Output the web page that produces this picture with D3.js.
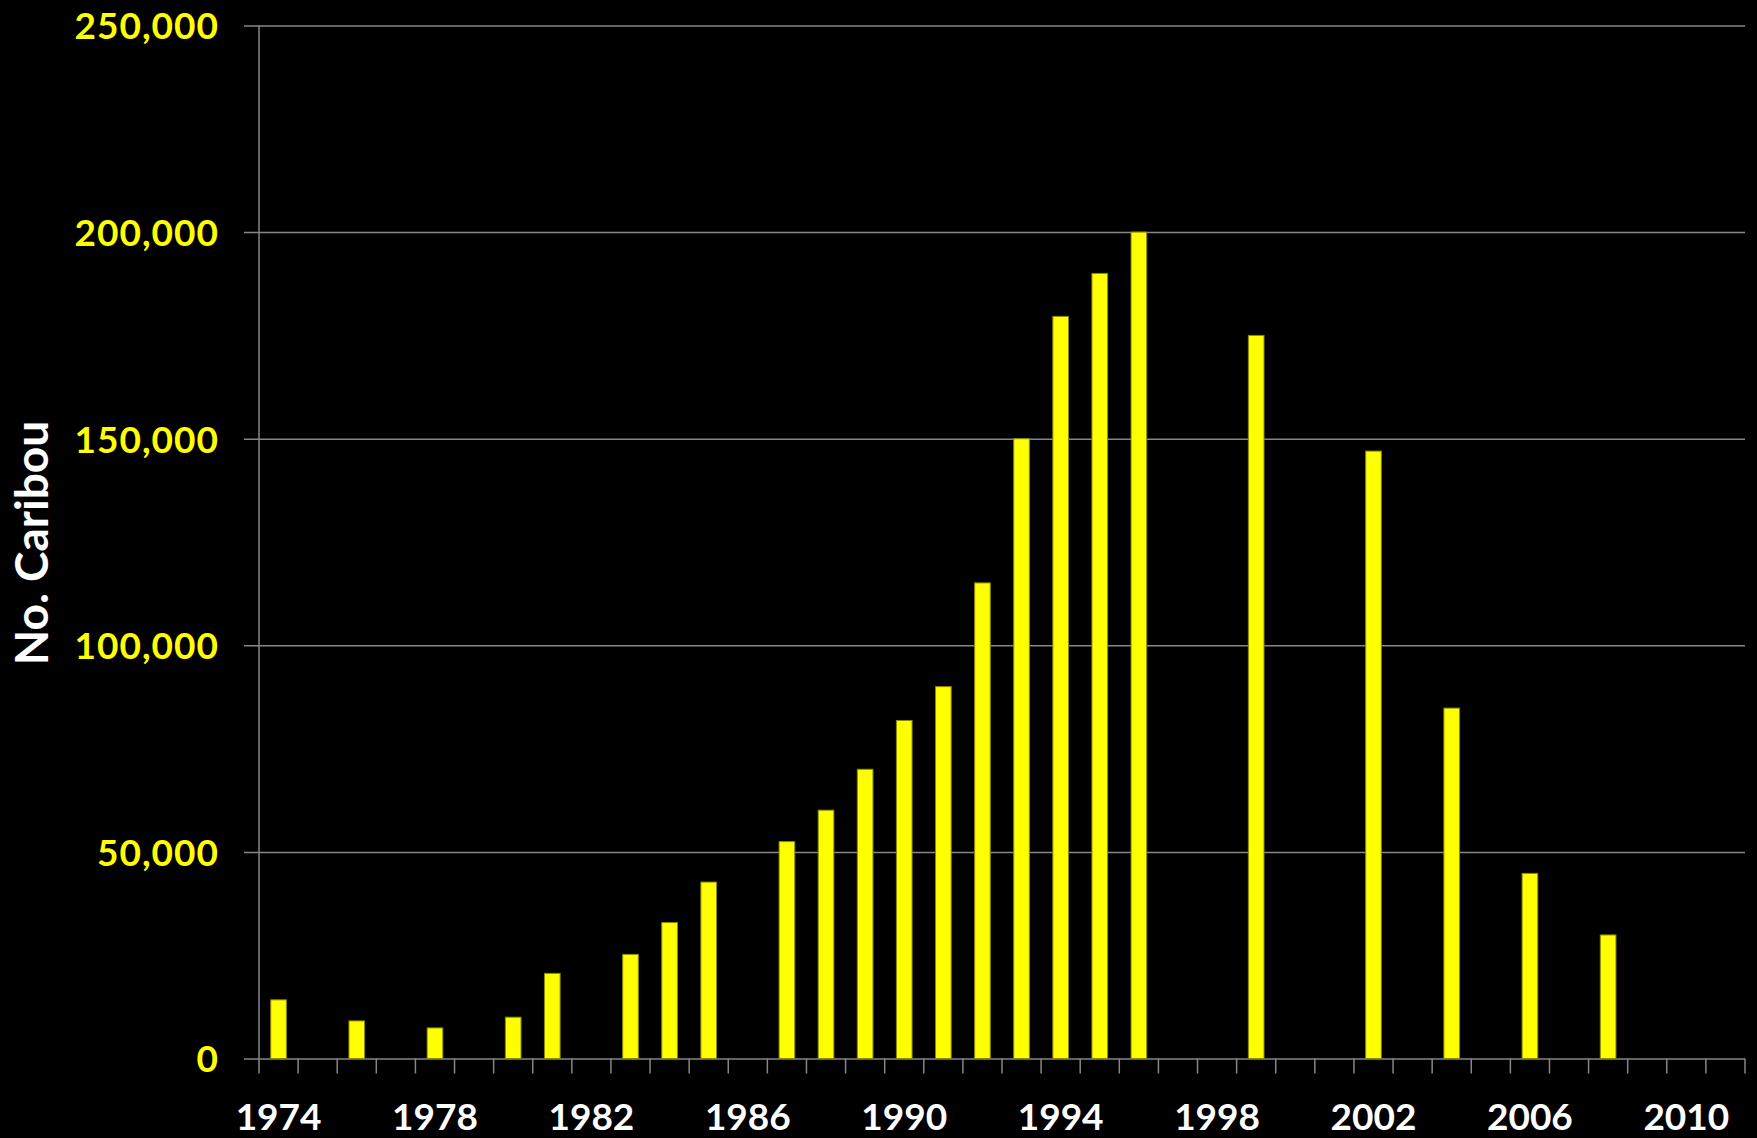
<!DOCTYPE html>
<html>
<head>
<meta charset="utf-8">
<script src="https://cdn.jsdelivr.net/npm/d3@7"></script>
<style>
  body { margin: 0; background: #000; }
  svg { display: block; }
  text { font-family: Lato, "Open Sans", sans-serif; font-weight: bold; }
</style>
</head>
<body>
<div id="chart"></div>
<script>
// caribou counts
const years = [1974, 1976, 1978, 1980, 1981, 1983, 1984, 1985, 1987, 1988, 1989, 1990,
               1991, 1992, 1993, 1994, 1995, 1996, 1999, 2002, 2004, 2006, 2008];
const counts = [14200, 9100, 7400, 10000, 20600, 25200, 32900, 42700, 52500, 60100, 70000, 81800,
                90000, 115100, 150000, 179600, 190000, 200000, 175000, 147000, 84800, 44800, 29900];
const yTicks = [0, 50000, 100000, 150000, 200000, 250000];
const xLabels = [1974, 1978, 1982, 1986, 1990, 1994, 1998, 2002, 2006, 2010];
const allYears = d3.range(1974, 2012);

const width = 1757;
const height = 1138;
const plotLeft = 259, plotRight = 1745, plotTop = 25.5, plotBottom = 1058.5;

const data = years.map((y, i) => ({ year: y, count: counts[i] }));

const svg = d3.select('#chart')
    .append('svg')
    .attr('width', width)
    .attr('height', height);

svg.append('rect')
    .attr('width', width)
    .attr('height', height)
    .attr('fill', '#000');

const xSlot = d3.scaleBand()
    .domain(allYears)
    .range([plotLeft, plotRight]);

const xBar = d3.scaleBand()
    .domain(allYears)
    .range([plotLeft, plotRight])
    .paddingInner(0.6)
    .paddingOuter(0.3);

const yScale = d3.scaleLinear()
    .domain([0, 250000])
    .range([plotBottom, plotTop]);

// gridlines + y labels
const yAxis = d3.axisLeft(yScale)
    .tickValues(yTicks)
    .tickSize(-(plotRight - plotLeft))
    .tickFormat(d3.format(','));

const yG = svg.append('g')
    .attr('transform', 'translate(' + plotLeft + ',0)')
    .call(yAxis);
yG.select('.domain').remove();
yG.selectAll('.tick line')
    .attr('x1', -15)
    .attr('stroke', '#868686')
    .attr('stroke-width', 1.5);
yG.selectAll('.tick text')
    .attr('x', -40)
    .attr('dy', '0.36em')
    .attr('fill', '#ffff00')
    .style('font-size', '37px')
    .style('letter-spacing', '1px');

// y axis line
svg.append('line')
    .attr('x1', plotLeft).attr('x2', plotLeft)
    .attr('y1', plotTop).attr('y2', plotBottom)
    .attr('stroke', '#868686')
    .attr('stroke-width', 1.5);

// x tick marks at slot boundaries
const boundaries = allYears.map(d => xSlot(d)).concat([plotRight]);
svg.append('g')
    .selectAll('line')
    .data(boundaries)
    .enter()
    .append('line')
    .attr('x1', d => d).attr('x2', d => d)
    .attr('y1', plotBottom).attr('y2', plotBottom + 15)
    .attr('stroke', '#868686')
    .attr('stroke-width', 1.5);

// bars
svg.append('g')
    .selectAll('rect')
    .data(data)
    .enter()
    .append('rect')
    .attr('x', d => xBar(d.year))
    .attr('width', xBar.bandwidth())
    .attr('y', d => yScale(d.count))
    .attr('height', d => yScale(0) - yScale(d.count))
    .attr('fill', '#ffff00')
    .attr('stroke', '#8a8a00')
    .attr('stroke-width', 1);

// x labels
svg.append('g')
    .selectAll('text')
    .data(xLabels)
    .enter()
    .append('text')
    .attr('x', d => xSlot(d) + xSlot.bandwidth() / 2)
    .attr('y', 1130)
    .attr('text-anchor', 'middle')
    .attr('fill', '#ffffff')
    .style('font-size', '37px')
    .text(d => d);

// y title
svg.append('text')
    .attr('transform', 'translate(48,543) rotate(-90)')
    .attr('text-anchor', 'middle')
    .attr('fill', '#ffffff')
    .style('font-size', '46px')
    .text('No. Caribou');
</script>
</body>
</html>
